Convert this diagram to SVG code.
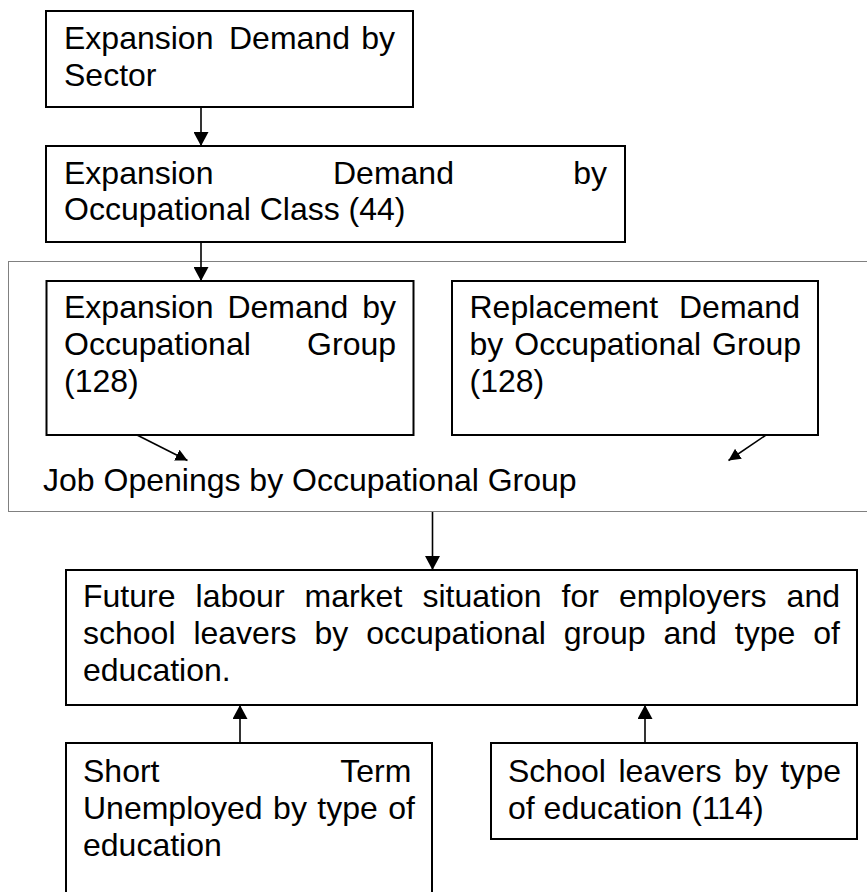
<svg xmlns="http://www.w3.org/2000/svg" width="867" height="892" viewBox="0 0 867 892">
  <style>
    .box { fill: #ffffff; stroke: #000000; stroke-width: 2; }
    .lbl { font-family: "Liberation Sans", Arial, sans-serif; font-size: 32px; fill: #000000; }
    .link { stroke: #000000; stroke-width: 1.6; fill: none; }
    .frame { fill: none; stroke: #000000; stroke-width: 1; stroke-dasharray: 1 1; }
  </style>
  <defs>
    <marker id="head" markerUnits="userSpaceOnUse" markerWidth="15" markerHeight="15" refX="14" refY="7.5" orient="auto">
      <path d="M0,0 L14,7.5 L0,15 Z" fill="#000000"/>
    </marker>
    <marker id="headSmall" markerUnits="userSpaceOnUse" markerWidth="12" markerHeight="12" refX="12" refY="6" orient="auto">
      <path d="M0,0 L12,6 L0,12 Z" fill="#000000"/>
    </marker>
  </defs>

  <rect width="867" height="892" fill="#ffffff"/>

  <!-- dotted frame around the occupational-group stage -->
  <g id="job-openings">
    <rect class="frame" x="8.5" y="261.5" width="870" height="250"/>
    <text class="lbl" x="43" y="491">Job Openings by Occupational Group</text>
  </g>

  <g id="sector">
    <rect class="box" x="46" y="11" width="367" height="96"/>
    <text class="lbl" y="49"><tspan x="64">Expansion</tspan><tspan x="229">Demand</tspan><tspan x="361.2">by</tspan></text>
    <text class="lbl" x="64" y="86">Sector</text>
  </g>

  <g id="occ-class">
    <rect class="box" x="46" y="146" width="579" height="96"/>
    <text class="lbl" y="184"><tspan x="64">Expansion</tspan><tspan x="333">Demand</tspan><tspan x="573.2">by</tspan></text>
    <text class="lbl" x="64" y="220">Occupational Class (44)</text>
  </g>

  <g id="exp-group">
    <rect class="box" x="46.5" y="281" width="367" height="154"/>
    <text class="lbl" y="318"><tspan x="64">Expansion</tspan><tspan x="227.4">Demand</tspan><tspan x="362.2">by</tspan></text>
    <text class="lbl" y="355"><tspan x="64">Occupational</tspan><tspan x="307.1">Group</tspan></text>
    <text class="lbl" x="64" y="392">(128)</text>
  </g>

  <g id="repl-group">
    <rect class="box" x="452" y="281" width="366" height="154"/>
    <text class="lbl" y="318"><tspan x="469.5">Replacement</tspan><tspan x="679">Demand</tspan></text>
    <text class="lbl" y="355"><tspan x="469.5">by</tspan><tspan x="514.3">Occupational</tspan><tspan x="712.1">Group</tspan></text>
    <text class="lbl" x="469.5" y="392">(128)</text>
  </g>

  <g id="future">
    <rect class="box" x="66" y="570" width="791" height="135"/>
    <text class="lbl" y="607"><tspan x="83">Future</tspan><tspan x="195.6">labour</tspan><tspan x="304.5">market</tspan><tspan x="422.4">situation</tspan><tspan x="561.6">for</tspan><tspan x="619">employers</tspan><tspan x="786.6">and</tspan></text>
    <text class="lbl" y="644"><tspan x="83">school</tspan><tspan x="193.4">leavers</tspan><tspan x="314.5">by</tspan><tspan x="366.2">occupational</tspan><tspan x="563.8">group</tspan><tspan x="663.5">and</tspan><tspan x="734.8">type</tspan><tspan x="813.3">of</tspan></text>
    <text class="lbl" x="83" y="681">education.</text>
  </g>

  <g id="short-term">
    <rect class="box" x="66" y="743" width="366" height="170"/>
    <text class="lbl" y="782"><tspan x="83">Short</tspan><tspan x="340.3">Term</tspan></text>
    <text class="lbl" y="819"><tspan x="83">Unemployed</tspan><tspan x="273.1">by</tspan><tspan x="317.3">type</tspan><tspan x="388.3">of</tspan></text>
    <text class="lbl" x="83" y="856">education</text>
  </g>

  <g id="school-leavers">
    <rect class="box" x="491" y="743" width="366" height="96"/>
    <text class="lbl" y="782"><tspan x="508">School</tspan><tspan x="618.4">leavers</tspan><tspan x="734.1">by</tspan><tspan x="780.5">type</tspan></text>
    <text class="lbl" x="508" y="819">of education (114)</text>
  </g>

  <g id="connectors">
    <line class="link" x1="201" y1="107" x2="201" y2="146" marker-end="url(#head)"/>
    <line class="link" x1="201" y1="242" x2="201" y2="281" marker-end="url(#head)"/>
    <line class="link" x1="137" y1="435" x2="187.5" y2="460.5" marker-end="url(#headSmall)"/>
    <line class="link" x1="766" y1="435" x2="728.5" y2="460.5" marker-end="url(#headSmall)"/>
    <line class="link" x1="432.5" y1="512" x2="432.5" y2="570" marker-end="url(#head)"/>
    <line class="link" x1="240" y1="743" x2="240" y2="705" marker-end="url(#head)"/>
    <line class="link" x1="645" y1="743" x2="645" y2="705" marker-end="url(#head)"/>
  </g>
</svg>
